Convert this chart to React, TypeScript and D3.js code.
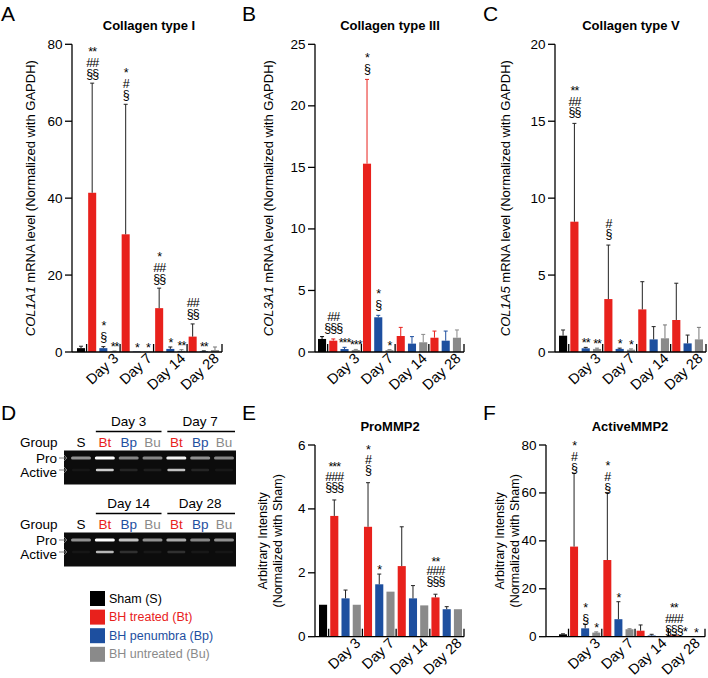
import React from "react";
import * as d3 from "d3";

const FONT = "'Liberation Sans', Arial, sans-serif";

// bar order in every chart: sham, then Bt / Bp / Bu for each day
const barKeys = ["S", "Bt3", "Bp3", "Bu3", "Bt7", "Bp7", "Bu7", "Bt14", "Bp14", "Bu14", "Bt28", "Bp28", "Bu28"];
const days = ["Day 3", "Day 7", "Day 14", "Day 28"];
const dayNums = ["3", "7", "14", "28"];

const colors: Record<string, string> = {
  S: "#000000",
  Bt: "#e8211c",
  Bp: "#1d4f9f",
  Bu: "#8a8a8a",
};

// A - COL1A1
const aMean = [1.0, 41.4, 1.0, 0.15, 30.6, 0.1, 0.1, 11.4, 0.8, 0.3, 4.0, 0.2, 0.5];
const aSd = [0.5, 28.5, 0.4, 0.1, 33.8, 0, 0, 5.2, 0.5, 0.3, 3.3, 0.1, 0.8];
const aMarks = [[], ["**", "##", "§§"], ["*", "§"], ["**"], ["*", "#", "§"], ["*"], ["*"], ["*", "##", "§§"], ["*"], ["**"], ["##", "§§"], ["**"], []];
const aTicks = [0, 20, 40, 60, 80];

// B - COL3A1
const bMean = [1.06, 0.92, 0.24, 0.16, 15.3, 2.82, 0.15, 1.3, 0.68, 0.79, 1.16, 0.92, 1.16];
const bSd = [0.19, 0.14, 0.14, 0.05, 6.85, 0.16, 0.05, 0.7, 0.57, 0.64, 0.54, 0.78, 0.63];
const bMarks = [[], ["##", "§§§"], ["***"], ["***"], ["*", "§"], ["*", "§"], ["*"], [], [], [], [], [], []];
const bTicks = [0, 5, 10, 15, 20, 25];

// C - COL1A5
const cMean = [1.06, 8.47, 0.24, 0.2, 3.44, 0.2, 0.15, 2.77, 0.82, 0.89, 2.08, 0.56, 0.82];
const cSd = [0.37, 6.39, 0.06, 0.05, 3.51, 0.05, 0.05, 1.8, 0.83, 0.87, 2.39, 0.54, 0.78];
const cMarks = [[], ["**", "##", "§§"], ["**"], ["**"], ["#", "§"], ["*"], ["*"], [], [], [], [], [], []];
const cTicks = [0, 5, 10, 15, 20];

// E - ProMMP2
const eMean = [1.0, 3.78, 1.2, 1.0, 3.44, 1.64, 1.41, 2.21, 1.2, 0.98, 1.23, 0.86, 0.86];
const eSd = [0, 0.5, 0.26, 0, 1.38, 0.32, 0, 1.23, 0.4, 0, 0.1, 0.08, 0];
const eMarks = [[], ["***", "###", "§§§"], [], [], ["*", "#", "§"], ["*"], [], [], [], [], ["**", "###", "§§§"], [], []];
const eTicks = [0, 2, 4, 6];

// F - ActiveMMP2
const fMean = [1.0, 37.6, 3.5, 1.7, 32.0, 7.3, 3.1, 2.5, 0.5, 0, 0.6, 0.1, 0.05];
const fSd = [0.2, 30.6, 1.7, 0.3, 28.1, 7.3, 0.2, 2.4, 0.5, 0, 0.2, 0, 0];
const fMarks = [[], ["*", "#", "§"], ["*", "§"], ["*"], ["*", "#", "§"], ["*"], [], [], [], [], ["**", "###", "§§§"], ["*"], ["*"]];
const fTicks = [0, 20, 40, 60, 80];

// D - zymography gels
const gelLanes = ["S", "Bt", "Bp", "Bu", "Bt", "Bp", "Bu"];
const gelTopDays = ["Day 3", "Day 7"];
const gelBottomDays = ["Day 14", "Day 28"];
const gelTopPro = [0.55, 1.0, 0.5, 0.5, 0.95, 0.55, 0.5];
const gelTopActive = [0.04, 0.8, 0.1, 0.08, 0.75, 0.1, 0.05];
const gelBottomPro = [0.55, 1.0, 0.75, 0.55, 0.65, 0.5, 0.55];
const gelBottomActive = [0.04, 0.7, 0.15, 0.05, 0.15, 0.05, 0.04];

const legendLabels = ["Sham (S)", "BH treated (Bt)", "BH penumbra (Bp)", "BH untreated (Bu)"];
const legendKeys = ["S", "Bt", "Bp", "Bu"];

function group(key: string) {
  return key.replace(/\d+/, "");
}

function BarPanel(p: any) {
  const x = d3
    .scaleBand()
    .domain(barKeys)
    .range([p.barStart, p.barEnd])
    .paddingInner(0.28)
    .paddingOuter(0);
  const y = d3.scaleLinear().domain([0, p.yMax]).range([p.yBottom, p.yTop]);
  const bw = x.bandwidth();
  const gap = x.step() - bw;
  const seps = [x("S")! + bw + gap / 2, ...dayNums.slice(0, 3).map((d) => x("Bu" + d)! + bw + gap / 2), p.axisEnd];

  return (
    <g fontFamily={FONT}>
      <text x={p.letterX} y={p.letterY} fontSize="21">
        {p.letter}
      </text>
      <text x={p.titleX} y={p.titleY} fontSize="13" fontWeight="bold" textAnchor="middle">
        {p.title}
      </text>
      {p.yLabel.map((line: any, i: number) => (
        <text
          key={i}
          transform={`translate(${p.yLabelX[i]},${(p.yTop + p.yBottom) / 2}) rotate(-90)`}
          textAnchor="middle"
          dominantBaseline="central"
          fontSize={p.yLabelSize}
        >
          {line}
        </text>
      ))}
      {/* bars */}
      {barKeys.map((k, i) => {
        const cx = x(k)! + bw / 2;
        const top = y(p.mean[i]);
        const errTop = y(p.mean[i] + p.sd[i]);
        const g = group(k);
        const ec = p.seriesErr ? colors[g] : g === "Bu" ? "#777" : "#222";
        const marks: string[] = p.marks[i];
        const starsOnly = marks.length === 1 && marks[0].startsWith("*");
        const baseY = Math.min(errTop, top) - (starsOnly ? 0 : p.markGap);
        return (
          <g key={k}>
            <rect x={x(k)} y={top} width={bw} height={p.yBottom - top} fill={colors[g]} />
            {p.sd[i] > 0 && (
              <g stroke={ec} strokeWidth="1">
                <line x1={cx} x2={cx} y1={top} y2={errTop} />
                <line x1={cx - 2} x2={cx + 2} y1={errTop} y2={errTop} />
              </g>
            )}
            {marks.length > 0 && (
              <text
                x={cx}
                y={baseY - (marks.length - 1) * p.lineH}
                textAnchor="middle"
                fontSize="12.5"
                letterSpacing="-1"
              >
                {marks.map((m, j) => (
                  <tspan key={j} x={cx} dy={j === 0 ? 0 : p.lineH}>
                    {m}
                  </tspan>
                ))}
              </text>
            )}
          </g>
        );
      })}
      {/* axes */}
      <g stroke="#000" strokeWidth="1.3" fill="none">
        <line x1={p.axisX} x2={p.axisX} y1={p.yTop} y2={p.yBottom} />
        <line x1={p.axisX} x2={p.axisEnd} y1={p.yBottom} y2={p.yBottom} />
        {p.ticks.map((t: number) => (
          <line key={t} x1={p.axisX - 7} x2={p.axisX} y1={y(t)} y2={y(t)} />
        ))}
        {seps.map((s, i) => (
          <line key={i} x1={s} x2={s} y1={p.yBottom} y2={p.yBottom - 8} />
        ))}
      </g>
      {p.ticks.map((t: number) => (
        <text key={t} x={p.axisX - 9.5} y={y(t)} textAnchor="end" dominantBaseline="central" fontSize="13.5">
          {t}
        </text>
      ))}
      {days.map((d, i) => {
        const n = dayNums[i];
        const cx = (x("Bt" + n)! + x("Bu" + n)! + bw) / 2;
        return (
          <text
            key={d}
            transform={`translate(${cx + 16},${p.yBottom + 7.5}) rotate(-43)`}
            textAnchor="end"
            fontSize="14.5"
          >
            {d}
          </text>
        );
      })}
    </g>
  );
}

function Gel({ top, dayLabels, pro, active }: any) {
  const lane = d3.scalePoint().domain(d3.range(gelLanes.length).map(String)).range([81, 224]);
  const gelY = top + 29;
  const gelH = 34;
  const proY = gelY + 7.5;
  const actY = gelY + 19.5;
  const dayGroups = [
    [1, 3],
    [4, 6],
  ];
  return (
    <g fontFamily={FONT}>
      {dayLabels.map((d: string, i: number) => {
        const [a, b] = dayGroups[i];
        const x1 = lane(String(a))! - 9;
        const x2 = i === 1 ? 235 : lane(String(b))! + 9;
        return (
          <g key={d}>
            <text x={(lane(String(a))! + lane(String(b))!) / 2} y={top} textAnchor="middle" dominantBaseline="central" fontSize="13.5">
              {d}
            </text>
            <line x1={x1} x2={x2} y1={top + 10} y2={top + 10} stroke="#000" strokeWidth="1.3" />
          </g>
        );
      })}
      <text x={20} y={top + 21} dominantBaseline="central" fontSize="13.5">
        Group
      </text>
      {gelLanes.map((l, i) => (
        <text
          key={i}
          x={lane(String(i))}
          y={top + 21}
          textAnchor="middle"
          dominantBaseline="central"
          fontSize="13.5"
          fill={l === "S" ? "#000" : colors[l]}
        >
          {l}
        </text>
      ))}
      <rect x={64} y={gelY} width={172} height={gelH} fill="#0c0c0c" />
      {gelLanes.map((l, i) => (
        <g key={i} filter="url(#blur)">
          <rect x={lane(String(i))! - 10} y={proY - 1.6} width={20} height={3.2} rx={1.5} fill="#fff" opacity={pro[i]} />
          <rect x={lane(String(i))! - 9} y={actY - 1.3} width={18} height={2.6} rx={1.2} fill="#fff" opacity={active[i]} />
        </g>
      ))}
      <text x={57} y={proY} textAnchor="end" dominantBaseline="central" fontSize="13.5">
        Pro
      </text>
      <text x={57} y={actY + 2} textAnchor="end" dominantBaseline="central" fontSize="13.5">
        Active
      </text>
      {[proY, actY].map((yy, i) => (
        <path key={i} d={`M59,${yy} L67,${yy} M64,${yy - 3} L67,${yy} L64,${yy + 3}`} stroke="#777" strokeWidth="0.9" fill="none" />
      ))}
    </g>
  );
}

export default function App() {
  const panels = [
    {
      letter: "A", letterX: 1, letterY: 21, title: "Collagen type I", titleX: 149, titleY: 30,
      axisX: 72, axisEnd: 222, barStart: 77, barEnd: 219, yTop: 44.3, yBottom: 352, yMax: 80, ticks: aTicks,
      mean: aMean, sd: aSd, marks: aMarks, markGap: 5.5, lineH: 11,
      yLabel: [[<tspan key="i" fontStyle="italic">COL1A1</tspan>, " mRNA level (Normalized with GAPDH)"]], yLabelX: [30], yLabelSize: 13,
    },
    {
      letter: "B", letterX: 242, letterY: 21, title: "Collagen type III", titleX: 390, titleY: 30,
      axisX: 315, axisEnd: 464, barStart: 318, barEnd: 461, yTop: 44.3, yBottom: 352, yMax: 25, ticks: bTicks,
      mean: bMean, sd: bSd, marks: bMarks, markGap: 6.5, lineH: 11, seriesErr: true,
      yLabel: [[<tspan key="i" fontStyle="italic">COL3A1</tspan>, " mRNA level (Normalized with GAPDH)"]], yLabelX: [268], yLabelSize: 13,
    },
    {
      letter: "C", letterX: 483, letterY: 21, title: "Collagen type V", titleX: 631, titleY: 30,
      axisX: 555, axisEnd: 706, barStart: 559, barEnd: 703, yTop: 44.3, yBottom: 352, yMax: 20, ticks: cTicks,
      mean: cMean, sd: cSd, marks: cMarks, markGap: 7, lineH: 10.5,
      yLabel: [[<tspan key="i" fontStyle="italic">COL1A5</tspan>, " mRNA level (Normalized with GAPDH)"]], yLabelX: [505], yLabelSize: 13,
    },
    {
      letter: "E", letterX: 242, letterY: 420, title: "ProMMP2", titleX: 390, titleY: 431,
      axisX: 315, axisEnd: 464, barStart: 319, barEnd: 462, yTop: 445, yBottom: 636.7, yMax: 6, ticks: eTicks,
      mean: eMean, sd: eSd, marks: eMarks, markGap: 9, lineH: 9.8,
      yLabel: ["Arbitrary Intensity", "(Normalized with Sham)"], yLabelX: [263, 278], yLabelSize: 12.5,
    },
    {
      letter: "F", letterX: 483, letterY: 420, title: "ActiveMMP2", titleX: 630, titleY: 431,
      axisX: 546, axisEnd: 705, barStart: 559, barEnd: 700, yTop: 445, yBottom: 636.7, yMax: 80, ticks: fTicks,
      mean: fMean, sd: fSd, marks: fMarks, markGap: 1, lineH: 11,
      yLabel: ["Arbitrary Intensity", "(Normalized with Sham)"], yLabelX: [500, 515], yLabelSize: 12.5,
    },
  ];

  return (
    <svg
      width={708}
      height={678}
      style={{ position: "absolute", left: 0, top: 0, background: "#fff" }}
    >
      <defs>
        <filter id="blur" x="-20%" y="-100%" width="140%" height="300%">
          <feGaussianBlur stdDeviation="0.7" />
        </filter>
      </defs>
      <rect width={708} height={678} fill="#fff" />
      {panels.map((p) => (
        <BarPanel key={p.letter} {...p} />
      ))}
      <text x={1} y={420} fontSize="21" fontFamily={FONT}>
        D
      </text>
      <Gel top={421.5} dayLabels={gelTopDays} pro={gelTopPro} active={gelTopActive} />
      <Gel top={503.5} dayLabels={gelBottomDays} pro={gelBottomPro} active={gelBottomActive} />
      <g fontFamily={FONT}>
        {legendKeys.map((k, i) => (
          <g key={k}>
            <rect x={90} y={591 + i * 18.6} width={15} height={15} fill={colors[k]} />
            <text x={109} y={598.5 + i * 18.6} dominantBaseline="central" fontSize="12.5" fill={colors[k]}>
              {legendLabels[i]}
            </text>
          </g>
        ))}
      </g>
    </svg>
  );
}
